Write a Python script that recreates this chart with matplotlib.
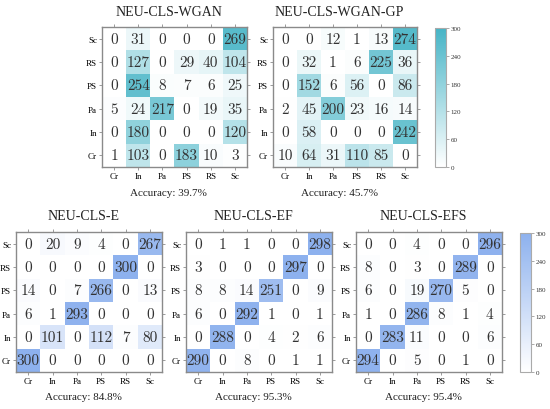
import numpy as np
import matplotlib
matplotlib.use("Agg")
import matplotlib.pyplot as plt
from matplotlib.colors import LinearSegmentedColormap

# ── Data: confusion matrices, rows = true class (Cr at bottom) ───────────────
classes = ["Cr", "In", "Pa", "PS", "RS", "Sc"]

cm_wgan = [
    [1, 103, 0, 183, 10, 3],
    [0, 180, 0, 0, 0, 120],
    [5, 24, 217, 0, 19, 35],
    [0, 254, 8, 7, 6, 25],
    [0, 127, 0, 29, 40, 104],
    [0, 31, 0, 0, 0, 269],
]
cm_wgan_gp = [
    [10, 64, 31, 110, 85, 0],
    [0, 58, 0, 0, 0, 242],
    [2, 45, 200, 23, 16, 14],
    [0, 152, 6, 56, 0, 86],
    [0, 32, 1, 6, 225, 36],
    [0, 0, 12, 1, 13, 274],
]
cm_e = [
    [300, 0, 0, 0, 0, 0],
    [0, 101, 0, 112, 7, 80],
    [6, 1, 293, 0, 0, 0],
    [14, 0, 7, 266, 0, 13],
    [0, 0, 0, 0, 300, 0],
    [0, 20, 9, 4, 0, 267],
]
cm_ef = [
    [290, 0, 8, 0, 1, 1],
    [0, 288, 0, 4, 2, 6],
    [6, 0, 292, 1, 0, 1],
    [8, 8, 14, 251, 0, 9],
    [3, 0, 0, 0, 297, 0],
    [0, 1, 1, 0, 0, 298],
]
cm_efs = [
    [294, 0, 5, 0, 1, 0],
    [0, 283, 11, 0, 0, 6],
    [1, 0, 286, 8, 1, 4],
    [6, 0, 19, 270, 5, 0],
    [8, 0, 3, 0, 289, 0],
    [0, 0, 4, 0, 0, 296],
]

titles = ["NEU-CLS-WGAN", "NEU-CLS-WGAN-GP", "NEU-CLS-E", "NEU-CLS-EF", "NEU-CLS-EFS"]
accuracies = [39.7, 45.7, 84.8, 95.3, 95.4]
matrices = [cm_wgan, cm_wgan_gp, cm_e, cm_ef, cm_efs]
cbar_ticks = [0, 60, 120, 180, 240, 300]

cmap_top = LinearSegmentedColormap.from_list("teal", ["#ffffff", "#46b4c6"])
cmap_bot = LinearSegmentedColormap.from_list("blue", ["#ffffff", "#8db1ee"])

W, H = 550, 410


def box(l, t, r, b):
    # pixel box -> figure fraction rect
    return [l / W, (H - b) / H, (r - l) / W, (b - t) / H]


# ── Layout (pixels) ──────────────────────────────────────────────────────────
ax_boxes = [
    (102, 28, 247, 168),
    (273, 28, 417, 168),
    (16, 233, 162, 373),
    (186, 233, 332, 373),
    (356, 233, 502, 373),
]
cbar_boxes = [(435, 29, 446, 168), (520, 234, 531, 373)]
cmaps = [cmap_top, cmap_top, cmap_bot, cmap_bot, cmap_bot]

serif = "Liberation Serif"
spine_c = "#8a8a8a"

fig = plt.figure(figsize=(W / 100, H / 100), dpi=100)

images = []
for cm, title, acc, bx, cmap in zip(matrices, titles, accuracies, ax_boxes, cmaps):
    ax = fig.add_axes(box(*bx))
    data = np.array(cm)
    im = ax.imshow(data, cmap=cmap, vmin=0, vmax=300, origin="lower", aspect="auto")
    images.append(im)
    for i in range(len(classes)):
        for j in range(len(classes)):
            ax.text(j, i, str(data[i, j]), ha="center", va="center",
                    fontsize=11, family="cmr10", color="#333333")
    ax.set_xticks(range(len(classes)))
    ax.set_yticks(range(len(classes)))
    ax.set_xticklabels(classes, family=serif, fontsize=6.5)
    ax.set_yticklabels(classes, family=serif, fontsize=6.5)
    ax.tick_params(length=2, width=0.6, color=spine_c, pad=1.5,
                   top=True, right=True, direction="out")
    for s in ax.spines.values():
        s.set_color(spine_c)
        s.set_linewidth(1.0)
    ax.text(0.46, 1.0 + 16 / 140, title, transform=ax.transAxes, ha="center",
            va="center", family=serif, fontsize=10, color="#222222")
    ax.text(0.46, -25 / 140, f"Accuracy: {acc}%", transform=ax.transAxes,
            ha="center", va="center", family=serif, fontsize=8, color="#222222")

# ── Colorbars ────────────────────────────────────────────────────────────────
for bx, im in zip(cbar_boxes, [images[1], images[4]]):
    cax = fig.add_axes(box(*bx))
    cb = fig.colorbar(im, cax=cax, ticks=cbar_ticks)
    cb.outline.set_edgecolor("#aaaaaa")
    cb.outline.set_linewidth(0.8)
    cax.tick_params(labelsize=5, length=2, width=0.5, color="#888888", pad=1.5)
    for lab in cax.get_yticklabels():
        lab.set_family(serif)
        lab.set_color("#333333")

fig.savefig("out.png", dpi=100)
